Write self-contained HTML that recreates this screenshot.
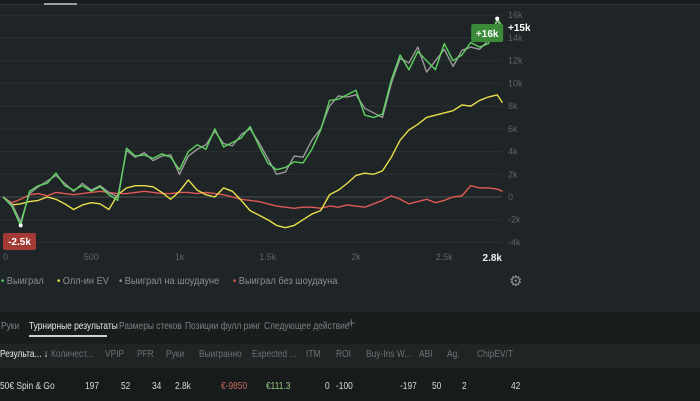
<!DOCTYPE html>
<html><head><meta charset="utf-8"><style>
body{margin:0;width:700px;height:401px;overflow:hidden;background:#1f2426;font-family:"Liberation Sans",sans-serif;position:relative}
.t{position:absolute;white-space:nowrap;transform:scaleX(0.8);transform-origin:left center}
.lg{position:absolute;white-space:nowrap;font-size:10.5px;color:#8a8f91;transform:scaleX(0.88);transform-origin:left center}
</style></head><body>
<div style="position:absolute;left:0;top:0;width:700px;height:4px;background:#181c1d;border-bottom:1px solid #2c3133"></div>
<div style="position:absolute;left:44px;top:3px;width:33px;height:2px;background:#9a9fa0"></div>
<svg id="chart" width="700" height="300" style="position:absolute;left:0;top:0"></svg>
<div class="lg" style="left:1px;top:275px"><span style="color:#5fd35f">•</span> Выиграл</div>
<div class="lg" style="left:57px;top:275px"><span style="color:#e8e04a">•</span> Олл-ин EV</div>
<div class="lg" style="left:119px;top:275px"><span style="color:#999">•</span> Выиграл на шоудауне</div>
<div class="lg" style="left:233px;top:275px"><span style="color:#e05a55">•</span> Выиграл без шоудауна</div>
<div style="position:absolute;left:509px;top:272px;font-size:15px;color:#8a8f91">⚙</div>
<div style="position:absolute;left:0;top:312px;width:700px;height:32px;background:#1a1d1e"></div>
<div class="t" style="left:1px;top:320px;font-size:10.5px;color:#7c8183">Руки</div>
<div class="t" style="left:29px;top:320px;font-size:10.5px;color:#e8eaeb">Турнирные результаты</div>
<div style="position:absolute;left:29px;top:335px;width:78px;height:2px;background:#cfd2d3"></div>
<div class="t" style="left:119px;top:320px;font-size:10.5px;color:#7c8183">Размеры стеков</div>
<div class="t" style="left:185px;top:320px;font-size:10.5px;color:#7c8183">Позиции фулл ринг</div>
<div class="t" style="left:264px;top:320px;font-size:10.5px;color:#7c8183">Следующее действие</div>
<div style="position:absolute;left:347px;top:315px;font-size:15px;color:#6a6f71">+</div>
<div style="position:absolute;left:0;top:344px;width:700px;height:24px;background:#202425"></div>
<div style="position:absolute;left:0;top:368px;width:700px;height:33px;background:#181b1c"></div>
<div style="position:absolute;left:0;top:348px;font-size:10.5px;color:#6c7173">
<span class="t" style="left:0;color:#e8eaeb">Результа... ↓</span>
<span class="t" style="left:51px">Количест...</span>
<span class="t" style="left:105px">VPIP</span>
<span class="t" style="left:137px">PFR</span>
<span class="t" style="left:166px">Руки</span>
<span class="t" style="left:199px">Выигранно</span>
<span class="t" style="left:252px">Expected ...</span>
<span class="t" style="left:306px">ITM</span>
<span class="t" style="left:336px">ROI</span>
<span class="t" style="left:366px">Buy-Ins W...</span>
<span class="t" style="left:419px">ABI</span>
<span class="t" style="left:447px">Ag.</span>
<span class="t" style="left:477px">ChipEV/T</span>
</div>
<div style="position:absolute;left:0;top:380px;font-size:10.5px;color:#d8dadb">
<span class="t" style="left:0">50€ Spin &amp; Go</span>
<span class="t" style="left:85px">197</span>
<span class="t" style="left:121px">52</span>
<span class="t" style="left:152px">34</span>
<span class="t" style="left:175px">2.8k</span>
<span class="t" style="left:221px;color:#c96a5e">€-9850</span>
<span class="t" style="left:266px;color:#92c67c">€111.3</span>
<span class="t" style="left:325px">0</span>
<span class="t" style="left:336px">-100</span>
<span class="t" style="left:400px">-197</span>
<span class="t" style="left:432px">50</span>
<span class="t" style="left:462px">2</span>
<span class="t" style="left:511px">42</span>
</div>
<script>
const hands=[0,50,100,150,200,250,300,350,400,450,500,550,600,650,700,750,800,850,900,950,1000,1050,1100,1150,1200,1250,1300,1350,1400,1450,1500,1550,1600,1650,1700,1750,1800,1850,1900,1950,2000,2050,2100,2150,2200,2250,2300,2350,2400,2450,2500,2550,2600,2650,2700,2750,2800,2830];
const won=[0,-0.8,-2.5,0.5,1.0,1.2,2.1,1.0,0.6,1.0,0.5,0.9,0.2,-0.3,4.3,3.6,3.7,3.4,3.8,3.5,2.4,4.0,4.6,4.2,6.0,4.4,4.8,5.2,6.2,4.5,3.0,2.4,2.6,3.1,3.0,4.2,5.9,8.5,8.6,9.0,9.4,7.2,7.0,7.3,10.3,12.5,11.2,12.8,12.0,11.2,13.5,12.0,12.5,13.6,13.2,13.5,15.7,15.0];
const showdown=[0,-0.6,-2.2,0.3,0.9,1.4,1.9,1.2,0.5,1.2,0.6,1.0,0.4,0.0,4.1,3.5,3.9,3.2,3.6,3.7,2.0,3.6,4.2,4.6,5.8,4.7,4.5,5.5,6.0,4.8,3.4,2.0,2.2,3.6,3.5,5.0,6.0,8.0,8.9,8.8,9.0,7.8,7.4,7.0,10.0,12.2,11.8,13.2,11.0,12.0,13.0,11.5,12.9,13.2,13.0,13.8,15.5,14.8];
const allinEv=[0,-0.7,-0.6,-0.4,-0.3,0.0,-0.2,-0.6,-1.1,-0.7,-0.5,-0.6,-1.1,0.2,0.8,1.0,1.0,0.9,0.4,-0.2,0.5,1.5,0.6,0.2,0.0,0.8,0.5,-0.3,-1.2,-1.6,-2.0,-2.5,-2.7,-2.5,-2.0,-1.5,-1.2,0.2,0.6,1.2,1.9,2.1,2.0,2.3,3.5,5.0,5.9,6.4,7.0,7.2,7.4,7.6,8.1,8.0,8.5,8.8,9.0,8.3];
const noShowdown=[0,-0.5,-0.2,0.2,0.3,0.1,0.4,0.3,0.2,0.3,0.4,0.5,0.4,0.3,0.3,0.4,0.5,0.4,0.3,0.3,0.4,0.4,0.3,0.4,0.3,0.2,0.0,-0.2,-0.3,-0.4,-0.6,-0.8,-0.9,-1.0,-0.9,-0.9,-1.0,-0.8,-0.9,-0.7,-0.8,-0.9,-0.6,-0.3,0.1,-0.2,-0.6,-0.4,-0.2,-0.5,-0.3,0.0,0.1,1.0,0.8,0.8,0.7,0.5];
const yTicks=[16,14,12,10,8,6,4,2,0,-2,-4];
const xTicks=[0,500,1000,1500,2000,2500];
const xTickLabels=["0","500","1k","1.5k","2k","2.5k"];
const NS="http://www.w3.org/2000/svg";
const svg=document.getElementById('chart');
const X=h=>3+h*0.1765;
const Y=v=>197-v*11.36;
function mk(t,a){const e=document.createElementNS(NS,t);for(const k in a)e.setAttribute(k,a[k]);svg.appendChild(e);return e;}
yTicks.forEach(v=>{
 const l=mk('line',{x1:0,x2:502,y1:Y(v),y2:Y(v),stroke:v===0?'#4a5052':'#2b3133','stroke-width':1});
 
 
 const t=mk('text',{x:508,y:Y(v)+3,fill:'#5f6567','font-size':9});
 t.textContent=(v===0?'0':v+'k');
 
 
});
xTicks.forEach((h,i)=>{
 const t=mk('text',{x:X(h),y:260,fill:'#5f6567','font-size':9,'text-anchor':i===0?'start':'middle'});
 t.textContent=xTickLabels[i];
 
 
});
const xe=mk('text',{x:502,y:261,fill:'#f0f0f0','font-size':10,'font-weight':'bold','text-anchor':'end'});
xe.textContent='2.8k';


function line(data,color,name){
 const p=mk('polyline',{points:data.map((v,i)=>X(hands[i])+','+Y(v)).join(' '),fill:'none',stroke:color,'stroke-width':1.4,'stroke-linejoin':'round'});
 
 
}
line(noShowdown,'#e05a55','series-won-without-showdown');
line(allinEv,'#e8e04a','series-allin-ev');
line(showdown,'#9a9a9a','series-won-at-showdown');
line(won,'#5fd35f','series-won');
let mi=0,ma=0;won.forEach((v,i)=>{if(v<won[mi])mi=i;if(v>won[ma])ma=i;});
const d1=mk('circle',{cx:X(hands[ma]),cy:Y(won[ma]),r:2,fill:'#fff'});


const d2=mk('circle',{cx:X(hands[mi]),cy:Y(won[mi]),r:2,fill:'#fff'});


const b1=mk('rect',{x:X(hands[ma])-26,y:24,width:32,height:18,rx:2,fill:'#3a8a3a'});


const bt1=mk('text',{x:X(hands[ma])-10,y:37,fill:'#fff','font-size':10,'font-weight':'bold','text-anchor':'middle'});
bt1.textContent='+16k';


const b2=mk('rect',{x:3,y:233,width:33,height:17,rx:2,fill:'#a33a36'});


const bt2=mk('text',{x:19.5,y:245,fill:'#fff','font-size':10,'font-weight':'bold','text-anchor':'middle'});
bt2.textContent='-2.5k';


const cur=mk('text',{x:508,y:31,fill:'#fff','font-size':10,'font-weight':'bold'});
cur.textContent='+15k';


</script>
</body></html>
